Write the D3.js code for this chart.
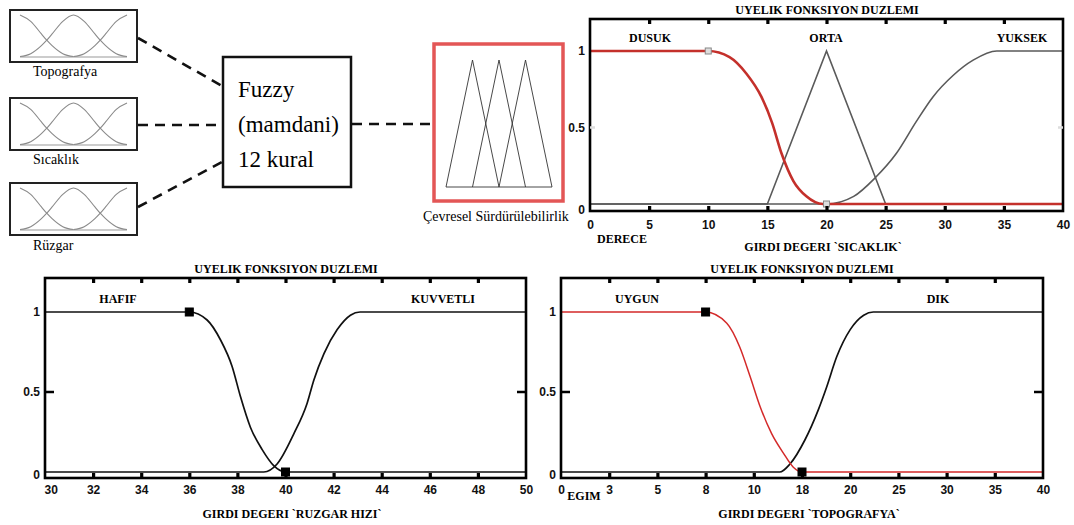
<!DOCTYPE html>
<html>
<head>
<meta charset="utf-8">
<script src="https://cdn.jsdelivr.net/npm/d3@7"></script>
<style>
  body { margin: 0; background: #fff; }
</style>
</head>
<body>
<div id="chart"></div>
<script>

// ---- values ----

// block diagram
var inputNames = ["Topografya", "Sıcaklık", "Rüzgar"];
var fuzzyLines = ["Fuzzy", "(mamdani)", "12 kural"];
var outputName = "Çevresel Sürdürülebilirlik";

// small membership sketches inside the input boxes (0..1 both ways)
var miniLow  = [[0, 1], [0.1, 0.85], [0.2, 0.55], [0.25, 0.4], [0.3, 0.27], [0.4, 0.08], [0.5, 0.01]];
var miniMid  = [[0, 0.01], [0.1, 0.08], [0.2, 0.27], [0.25, 0.4], [0.3, 0.55], [0.4, 0.85], [0.5, 1],
                [0.6, 0.85], [0.7, 0.55], [0.75, 0.4], [0.8, 0.27], [0.9, 0.08], [1, 0.01]];
var miniHigh = [[0.5, 0.01], [0.6, 0.08], [0.7, 0.27], [0.75, 0.4], [0.8, 0.55], [0.9, 0.85], [1, 1]];
// output triangles: left foot, peak, right foot (0..1)
var outTriangles = [[0, 0.25, 0.5], [0.25, 0.5, 0.75], [0.5, 0.75, 1]];

// SICAKLIK panel
var sicaklikTicks = [0, 5, 10, 15, 20, 25, 30, 35, 40];
var sicaklikNames = ["DUSUK", "ORTA", "YUKSEK"];
var dusuk  = [[0, 1], [10, 1], [11.8, 0.96], [13.25, 0.85], [14.5, 0.7], [15.4, 0.53], [16.2, 0.33],
              [17.2, 0.15], [18.3, 0.05], [19.7, 0], [20, 0], [40, 0]];
var orta   = [[0, 0], [15, 0], [20, 1], [25, 0], [40, 0]];
var yuksek = [[0, 0], [20, 0], [22.3, 0.05], [24.1, 0.17], [25.9, 0.33], [27.6, 0.54], [29, 0.7],
              [30.7, 0.84], [32.4, 0.94], [34.4, 1], [40, 1]];
var sicaklikMarkers = [[10, 1], [20, 0]];

// RUZGAR HIZI panel
var ruzgarTicks = [30, 32, 34, 36, 38, 40, 42, 44, 46, 48, 50];
var ruzgarNames = ["HAFIF", "KUVVETLI"];
var hafif    = [[30, 1], [36, 1], [36.74, 0.95], [37.3, 0.825], [37.78, 0.66], [38.13, 0.47], [38.54, 0.28],
                [39.03, 0.14], [39.51, 0.04], [40, 0], [50, 0]];
var kuvvetli = [[30, 0], [39.1, 0], [39.65, 0.05], [40.35, 0.24], [40.9, 0.43], [41.18, 0.575], [41.6, 0.74],
                [42.15, 0.89], [42.7, 0.98], [43.1, 1], [50, 1]];
var ruzgarMarkers = [[36, 1], [40, 0]];

// TOPOGRAFYA panel (x given as tick position, labels are uneven)
var topoTickLabels = ["0", "3", "5", "8", "10", "18", "20", "25", "30", "35", "40"];
var topoNames = ["UYGUN", "DIK"];
var uygun = [[0, 1], [3, 1], [3.44, 0.93], [3.71, 0.78], [3.92, 0.6], [4.13, 0.41], [4.37, 0.24],
             [4.61, 0.12], [4.82, 0.03], [5, 0], [10, 0]];
var dik   = [[0, 0], [4.54, 0], [4.75, 0.05], [5.06, 0.2], [5.34, 0.39], [5.51, 0.53], [5.72, 0.72],
             [6, 0.89], [6.28, 0.98], [6.48, 1], [10, 1]];
var topoMarkers = [[3, 1], [5, 0]];

var yTicks = [0, 0.5, 1];
var titleText = "UYELIK FONKSIYON DUZLEMI";

var serifFont = "'Liberation Serif', 'DejaVu Serif', serif";
var numFont = "'Liberation Sans', 'DejaVu Sans', sans-serif";

// ---- canvas ----
var svg = d3.select("#chart").append("svg")
  .attr("width", 1074)
  .attr("height", 525)
  .style("background", "#fff");

function serifText(sel, size, bold) {
  return sel.style("font-family", serifFont)
    .style("font-size", size + "px")
    .style("font-weight", bold ? "bold" : "normal");
}

// ---- block diagram ----
function drawDiagram() {
  var g = svg.append("g");
  var boxTops = [10, 98, 183];

  var mx = d3.scaleLinear().domain([0, 1]).range([20, 127]);

  boxTops.forEach(function (top, i) {
    g.append("rect")
      .attr("x", 10).attr("y", top).attr("width", 127).attr("height", 52)
      .attr("fill", "none").attr("stroke", "#222").attr("stroke-width", 2);

    var my = d3.scaleLinear().domain([0, 1]).range([top + 47, top + 5]);
    var mline = d3.line()
      .x(function (d) { return mx(d[0]); })
      .y(function (d) { return my(d[1]); })
      .curve(d3.curveMonotoneX);

    // base line
    g.append("line")
      .attr("x1", mx(0)).attr("x2", mx(1)).attr("y1", my(0)).attr("y2", my(0))
      .attr("stroke", "#999").attr("stroke-width", 1.2);

    [miniLow, miniMid, miniHigh].forEach(function (c) {
      g.append("path").attr("d", mline(c))
        .attr("fill", "none").attr("stroke", "#8a8a8a").attr("stroke-width", 1.1);
    });

    serifText(g.append("text"), 14, false)
      .attr("x", 33).attr("y", top + 66 + (i === 2 ? 1 : 0))
      .text(inputNames[i]);
  });

  // dashed connectors
  var dashes = [[138, 38, 222, 86], [138, 125, 222, 125], [138, 207, 222, 162], [352, 124, 434, 124]];
  g.selectAll("line.dash")
    .data(dashes).enter()
    .append("line")
    .attr("class", "dash")
    .attr("x1", function (d) { return d[0]; })
    .attr("y1", function (d) { return d[1]; })
    .attr("x2", function (d) { return d[2]; })
    .attr("y2", function (d) { return d[3]; })
    .attr("stroke", "#111").attr("stroke-width", 2.6)
    .attr("stroke-dasharray", "10,7");

  // fuzzy box
  g.append("rect")
    .attr("x", 223).attr("y", 57).attr("width", 128).attr("height", 130)
    .attr("fill", "#fff").attr("stroke", "#111").attr("stroke-width", 2.5);

  serifText(g.selectAll("text.fz")
    .data(fuzzyLines).enter()
    .append("text")
    .attr("class", "fz"), 23, false)
    .attr("x", 238)
    .attr("y", function (d, i) { return 97 + i * 35; })
    .text(function (d) { return d; });

  // output box with triangles
  g.append("rect")
    .attr("x", 434).attr("y", 44).attr("width", 129).attr("height", 157)
    .attr("fill", "#fff").attr("stroke", "#e35656").attr("stroke-width", 3.5);

  var tx = d3.scaleLinear().domain([0, 1]).range([446, 552]);
  var ty = d3.scaleLinear().domain([0, 1]).range([187, 60]);

  g.append("line")
    .attr("x1", tx(0)).attr("x2", tx(1)).attr("y1", ty(0)).attr("y2", ty(0))
    .attr("stroke", "#333").attr("stroke-width", 0.9);

  g.selectAll("path.tri")
    .data(outTriangles).enter()
    .append("path")
    .attr("class", "tri")
    .attr("d", function (d) {
      return "M" + tx(d[0]) + "," + ty(0) + "L" + tx(d[1]) + "," + ty(1) + "L" + tx(d[2]) + "," + ty(0);
    })
    .attr("fill", "none").attr("stroke", "#333").attr("stroke-width", 0.9);

  serifText(g.append("text"), 14, false)
    .attr("x", 423).attr("y", 221)
    .text(outputName);
}

// ---- membership plots ----
function drawPanel(p) {
  var g = svg.append("g");
  var x = p.x, y = p.y;
  var x0 = x.range()[0], x1 = x.range()[1];

  var line = d3.line()
    .x(function (d) { return x(d[0]); })
    .y(function (d) { return y(d[1]); });

  // curves
  p.curves.forEach(function (c) {
    g.append("path")
      .attr("d", line.curve(c.linear ? d3.curveLinear : d3.curveMonotoneX)(c.data))
      .attr("fill", "none")
      .attr("stroke", c.color)
      .attr("stroke-width", c.width);
  });

  // markers
  g.selectAll("rect.mk")
    .data(p.markers).enter()
    .append("rect")
    .attr("class", "mk")
    .attr("x", function (d) { return x(d[0]) - p.markerSize / 2; })
    .attr("y", function (d) { return y(d[1]) - p.markerSize / 2; })
    .attr("width", p.markerSize)
    .attr("height", p.markerSize)
    .attr("fill", p.markerFill)
    .attr("stroke", p.markerStroke)
    .attr("stroke-width", 1);

  // frame
  g.append("rect")
    .attr("x", x0).attr("y", p.top)
    .attr("width", x1 - x0).attr("height", p.bottom - p.top)
    .attr("fill", "none").attr("stroke", "#000").attr("stroke-width", 2.6);

  // bottom axis: inner ticks, labels below
  var inner = p.ticks.slice(1, -1);
  var bottomAxis = d3.axisBottom(x)
    .tickValues(p.ticks)
    .tickSize(-5)
    .tickPadding(p.tickPad)
    .tickFormat(p.tickFormat);
  var ba = g.append("g")
    .attr("transform", "translate(0," + p.bottom + ")")
    .call(bottomAxis);
  ba.select(".domain").remove();
  ba.selectAll(".tick line")
    .attr("stroke", "#000").attr("stroke-width", 3.2)
    .attr("opacity", function (d) { return inner.indexOf(d) >= 0 ? 1 : 0; });
  ba.selectAll(".tick text")
    .attr("fill", "#111")
    .style("font-family", numFont)
    .style("font-weight", "bold")
    .style("font-size", "12px");
  if (p.firstLabelStart) {
    ba.select(".tick text").attr("text-anchor", "start").attr("x", -1);
  }

  // top ticks
  var ta = g.append("g")
    .attr("transform", "translate(0," + p.top + ")")
    .call(d3.axisTop(x).tickValues(inner).tickSize(-5).tickFormat(""));
  ta.select(".domain").remove();
  ta.selectAll(".tick line").attr("stroke", "#000").attr("stroke-width", 3.2);

  // y labels
  var la = g.append("g")
    .attr("transform", "translate(" + x0 + ",0)")
    .call(d3.axisLeft(y).tickValues(yTicks).tickSize(0).tickPadding(5)
      .tickFormat(function (d) { return d === 0.5 ? "0.5" : d; }));
  la.select(".domain").remove();
  la.selectAll(".tick text")
    .attr("fill", "#111")
    .style("font-family", numFont)
    .style("font-weight", "bold")
    .style("font-size", "12px")
    .attr("y", function (d) { return d === 0 ? p.zeroShift : 0; });

  // 0.5 dashes on both sides
  [[x0, x0 + p.halfLen], [x1 - p.halfLen, x1]].forEach(function (s) {
    g.append("line")
      .attr("x1", s[0]).attr("x2", s[1]).attr("y1", y(0.5)).attr("y2", y(0.5))
      .attr("stroke", p.halfColor).attr("stroke-width", 2.5);
  });

  // title and labels
  serifText(g.append("text"), 12, true)
    .attr("x", p.titleX).attr("y", p.top - 5)
    .attr("text-anchor", "middle")
    .text(titleText);

  serifText(g.selectAll("text.mf")
    .data(p.names).enter()
    .append("text")
    .attr("class", "mf"), 12, true)
    .attr("x", function (d, i) { return p.nameX[i]; })
    .attr("y", y(1) - 9)
    .attr("text-anchor", "middle")
    .text(function (d) { return d; });

  p.extraText.forEach(function (t) {
    serifText(g.append("text"), 12, true)
      .attr("x", t.x).attr("y", t.y)
      .attr("text-anchor", "middle")
      .text(t.text);
  });
}

drawDiagram();

drawPanel({
  x: d3.scaleLinear().domain([0, 40]).range([590, 1063]),
  y: d3.scaleLinear().domain([0, 1]).range([204, 51]),
  top: 19, bottom: 211,
  ticks: sicaklikTicks,
  tickFormat: d3.format("d"),
  tickPad: 9,
  zeroShift: 6,
  halfLen: 5, halfColor: "#ddd",
  curves: [
    { data: orta, color: "#5a5a5a", width: 1.6, linear: true },
    { data: yuksek, color: "#5a5a5a", width: 1.6 },
    { data: dusuk, color: "#c4302b", width: 2.6 }
  ],
  markers: sicaklikMarkers, markerSize: 6, markerFill: "#ddd", markerStroke: "#888",
  titleX: 827,
  names: sicaklikNames, nameX: [650, 826, 1022],
  extraText: [
    { text: "DERECE", x: 622, y: 243 },
    { text: "GIRDI DEGERI `SICAKLIK`", x: 823, y: 251 }
  ]
});

drawPanel({
  x: d3.scaleLinear().domain([30, 50]).range([45, 526]),
  y: d3.scaleLinear().domain([0, 1]).range([472, 312]),
  top: 278, bottom: 478,
  ticks: ruzgarTicks,
  tickFormat: d3.format("d"),
  tickPad: 7,
  firstLabelStart: true,
  zeroShift: 3,
  halfLen: 9, halfColor: "#000",
  curves: [
    { data: kuvvetli, color: "#111", width: 1.7 },
    { data: hafif, color: "#111", width: 1.7 }
  ],
  markers: ruzgarMarkers, markerSize: 8, markerFill: "#000", markerStroke: "#000",
  titleX: 286,
  names: ruzgarNames, nameX: [118, 443],
  extraText: [
    { text: "GIRDI DEGERI `RUZGAR HIZI`", x: 292, y: 518 }
  ]
});

drawPanel({
  x: d3.scaleLinear().domain([0, 10]).range([561, 1043]),
  y: d3.scaleLinear().domain([0, 1]).range([472, 312]),
  top: 278, bottom: 478,
  ticks: d3.range(topoTickLabels.length),
  tickFormat: function (d) { return topoTickLabels[d]; },
  tickPad: 7,
  zeroShift: 3,
  halfLen: 9, halfColor: "#000",
  curves: [
    { data: dik, color: "#111", width: 1.7 },
    { data: uygun, color: "#d42a2a", width: 1.5 }
  ],
  markers: topoMarkers, markerSize: 8, markerFill: "#000", markerStroke: "#000",
  titleX: 802,
  names: topoNames, nameX: [637, 938],
  extraText: [
    { text: "EGIM", x: 584, y: 500 },
    { text: "GIRDI DEGERI `TOPOGRAFYA`", x: 809, y: 518 }
  ]
});

</script>
</body>
</html>
